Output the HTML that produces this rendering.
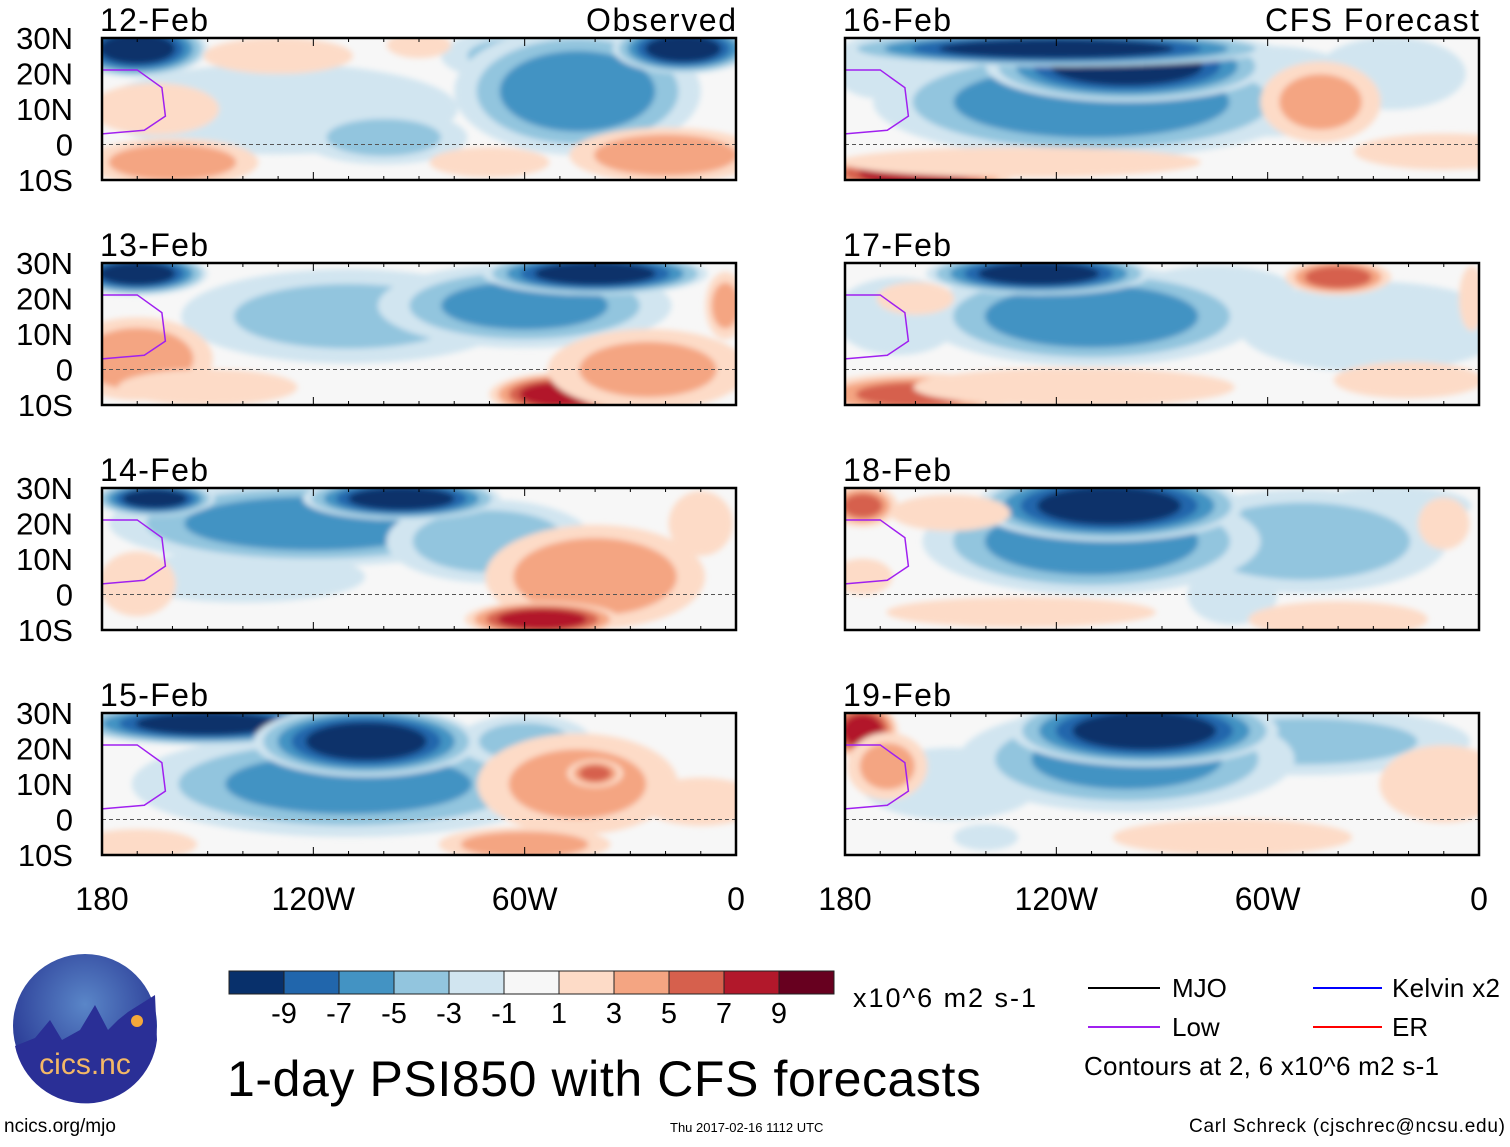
<!DOCTYPE html>
<html><head><meta charset="utf-8">
<style>
body{margin:0;background:#fff;width:1510px;height:1142px;overflow:hidden;font-family:"Liberation Sans",sans-serif}
svg text{font-family:"Liberation Sans",sans-serif}
</style></head><body>
<svg id="chart" width="1510" height="1142" xmlns="http://www.w3.org/2000/svg">
<defs>
<filter id="blur" x="-20%" y="-20%" width="140%" height="140%"><feGaussianBlur stdDeviation="3"/></filter>
<radialGradient id="logoG" cx="50%" cy="35%" r="65%"><stop offset="0" stop-color="#5a86c8"/><stop offset="1" stop-color="#24318f"/></radialGradient>
</defs>
<g id="panels"></g>
<g id="legend-area">
  <g>
    <circle cx="85" cy="1026" r="72" fill="url(#logoG)"/>
    <path d="M15,1046 L35,1038 L50,1020 L62,1040 L80,1030 L95,1005 L108,1030 L118,1020 L128,1012 L155,995 L157,1040 A72,72 0 0 1 15,1046Z" fill="#2a2f96"/>
    <circle cx="137" cy="1021" r="6" fill="#f5a83a"/>
    <text x="85" y="1074" font-size="30" fill="#f3b866" text-anchor="middle">cics.nc</text>
  </g>
  <text x="4" y="1132" font-size="19">ncics.org/mjo</text>
  <g id="cbar"></g>
  <text x="853" y="1007" font-size="27" textLength="183">x10^6 m2 s-1</text>
  <text x="227" y="1096" font-size="50" textLength="754">1-day PSI850 with CFS forecasts</text>
  <text x="670" y="1132" font-size="13">Thu 2017-02-16 1112 UTC</text>
  <text x="1505" y="1132" font-size="19" text-anchor="end" textLength="316">Carl Schreck (cjschrec@ncsu.edu)</text>
  <g><line x1="1088" y1="988" x2="1160" y2="988" stroke="#000" stroke-width="2"/><text x="1172" y="997" font-size="26">MJO</text></g>
  <g><line x1="1313" y1="988" x2="1382" y2="988" stroke="#00f" stroke-width="2"/><text x="1392" y="997" font-size="26" textLength="108">Kelvin x2</text></g>
  <g><line x1="1088" y1="1027" x2="1160" y2="1027" stroke="#a020f0" stroke-width="2"/><text x="1172" y="1036" font-size="26">Low</text></g>
  <g><line x1="1313" y1="1027" x2="1382" y2="1027" stroke="#f00" stroke-width="2"/><text x="1392" y="1036" font-size="26">ER</text></g>
  <text x="1084" y="1075" font-size="26" textLength="355">Contours at 2, 6 x10^6 m2 s-1</text>
</g>
</svg>
<script>
const dates = ["12-Feb","13-Feb","14-Feb","15-Feb","16-Feb","17-Feb","18-Feb","19-Feb"];
const latTicks = [30,20,10,0,-10];
const latLabels = ["30N","20N","10N","0","10S"];
const lonTicks = [-180,-120,-60,0];
const lonLabels = ["180","120W","60W","0"];
const cbarLevels = [-9,-7,-5,-3,-1,1,3,5,7,9];
const cbarColors = ["#08306b","#2166ac","#4393c3","#92c5de","#d1e5f0","#f7f7f7","#fddbc7","#f4a582","#d6604d","#b2182b","#67001f"];
// blobs: [lon, lat, rxDeg, ryDeg, value]
const blobs12 = [[-130,10,60,15,-2],[-60,25,25,8,-4],[-100,2,25,8,-4],[-45,15,35,18,-7],[-170,27,20,8,-11],[-15,27,20,7,-11],[-160,-5,25,7,5],[-20,-3,28,8,5],[-165,10,20,8,3],[-90,28,10,4,3],[-70,-5,20,5,2],[-130,25,25,6,2]];
const blobs13 = [[-110,15,50,14,-4],[-60,18,42,12,-6],[-170,27,20,6,-11],[-40,27,32,6,-11],[-170,3,22,12,5],[-50,-7,20,6,9],[-25,0,30,12,4],[-150,-5,30,6,2],[-3,18,6,10,4]];
const blobs14 = [[-140,5,38,8,-3],[-120,20,58,12,-7],[-70,15,30,12,-5],[-95,27,28,6,-11],[-165,27,17,5,-11],[-40,5,32,15,5],[-55,-7,22,5,9],[-170,3,12,10,3],[-10,20,10,10,3]];
const blobs15 = [[-110,10,62,15,-6],[-60,22,20,8,-4],[-150,27,38,6,-11],[-105,22,32,10,-11],[-45,10,30,15,4],[-40,13,8,4,6],[-60,-7,25,5,5],[-170,-7,20,5,2],[-10,5,20,8,2]];
const blobs16 = [[-60,15,32,14,-3],[-170,22,15,10,-3],[-25,20,25,12,-2],[-110,12,62,16,-7],[-100,22,40,10,-11],[-120,27,62,5,-11],[-160,-8,28,6,9],[-45,12,18,12,4],[-130,-5,60,5,2],[-10,-2,30,6,2]];
const blobs17 = [[-165,15,20,12,-3],[-30,12,42,14,-3],[-75,22,25,8,-3],[-110,15,48,14,-7],[-125,27,32,6,-11],[-40,26,15,5,7],[-160,-7,30,6,6],[-115,-5,50,6,3],[-160,20,12,5,3],[-20,-3,25,6,2],[-2,20,4,10,3]];
const blobs18 = [[-70,0,15,10,-2],[-25,25,25,6,-3],[-50,15,42,15,-5],[-110,15,48,15,-7],[-105,25,38,10,-11],[-175,25,10,6,6],[-150,23,20,6,2],[-130,-5,45,5,2],[-40,-7,30,6,2],[-10,20,8,8,3],[-175,5,10,6,2]];
const blobs19 = [[-150,10,30,12,-2],[-50,22,50,10,-4],[-140,-5,10,4,-3],[-100,17,48,15,-6],[-95,25,38,10,-11],[-175,25,10,8,9],[-168,15,12,10,4],[-10,10,20,12,3],[-70,-5,40,6,2]];
const allBlobs = [blobs12,blobs13,blobs14,blobs15,blobs16,blobs17,blobs18,blobs19];
const lowLon = [-180,-170,-163,-162,-168,-180];
const lowLat = [21,21,16,8,4,3];

const NS="http://www.w3.org/2000/svg";
function mk(t,a,p){const e=document.createElementNS(NS,t);for(const k in a)e.setAttribute(k,a[k]);p.appendChild(e);return e;}
function colorFor(v){let i=0;while(i<cbarLevels.length&&v>cbarLevels[i])i++;return cbarColors[i];}
const PW=634,PH=142;
const panelsG=document.getElementById('panels');
for(let p=0;p<8;p++){
  const col=p<4?0:1,row=p%4;
  const x0=col?845:102,y0=38+row*225;
  const X=lon=>x0+(lon+180)/180*PW;
  const Y=lat=>y0+(30-lat)/40*PH;
  const g=mk('g',{},panelsG);
  
  
  const cp=mk('clipPath',{id:'cp'+p},g);
  mk('rect',{x:x0,y:y0,width:PW,height:PH},cp);
  const f=mk('g',{'clip-path':'url(#cp'+p+')'},g);
  mk('rect',{x:x0,y:y0,width:PW,height:PH,fill:'#f7f7f7'},f);
  const fb=mk('g',{filter:'url(#blur)'},f);
  allBlobs[p].forEach(b=>{
    const [lon,lat,rx,ry,v]=b,a=Math.abs(v),s=Math.sign(v);
    [1,3,5,7,9].forEach(t=>{
      if(t<a){const sc=Math.min(1,1.1-0.75*t/(a+1));
        const e=mk('ellipse',{cx:X(lon),cy:Y(lat),rx:rx*PW/180*sc,ry:ry*PH/40*sc,fill:colorFor(s*(t+1))},fb);
        
        }
    });
  });
  let d='';lowLon.forEach((l,i)=>{d+=(i?'L':'M')+X(l)+','+Y(lowLat[i]);});
  mk('path',{d:d,fill:'none',stroke:'#a020f0','stroke-width':1.5},f);
  mk('line',{x1:x0,y1:Y(0),x2:x0+PW,y2:Y(0),stroke:'#555','stroke-dasharray':'4,3','stroke-width':1},g);
  mk('rect',{x:x0,y:y0,width:PW,height:PH,fill:'none',stroke:'#000','stroke-width':2.5},g);
  for(let l=-180;l<=0;l+=10){mk('line',{x1:X(l),y1:y0,x2:X(l),y2:y0+(l%60?4:8),stroke:'#000'},g);mk('line',{x1:X(l),y1:y0+PH,x2:X(l),y2:y0+PH-(l%60?4:8),stroke:'#000'},g);}
  const dt=mk('text',{x:x0-2,y:y0-7,'font-size':32,textLength:108},g);dt.textContent=dates[p];
  
  
  if(row===0){const t=mk('text',{x:x0+PW,y:y0-7,'font-size':32,'text-anchor':'end',textLength:col?214:150},g);t.textContent=col?'CFS Forecast':'Observed';}
  if(col===0){latTicks.forEach((lt,i)=>{const t=mk('text',{x:73,y:Y(lt)+11,'font-size':31,'text-anchor':'end'},g);t.textContent=latLabels[i];});}
  if(row===3){lonTicks.forEach((ln,i)=>{const t=mk('text',{x:X(ln),y:910,'font-size':32,'text-anchor':'middle'},g);t.textContent=lonLabels[i];});}
}
const cb=document.getElementById('cbar');
const cw=55;
cbarColors.forEach((c,i)=>{const r=mk('rect',{x:229+i*cw,y:971,width:cw,height:23,fill:c,stroke:'#222','stroke-width':1},cb);
  
  });
cbarLevels.forEach((v,i)=>{const t=mk('text',{x:229+(i+1)*cw,y:1023,'font-size':29,'text-anchor':'middle'},cb);t.textContent=v;});
</script>
</body></html>
